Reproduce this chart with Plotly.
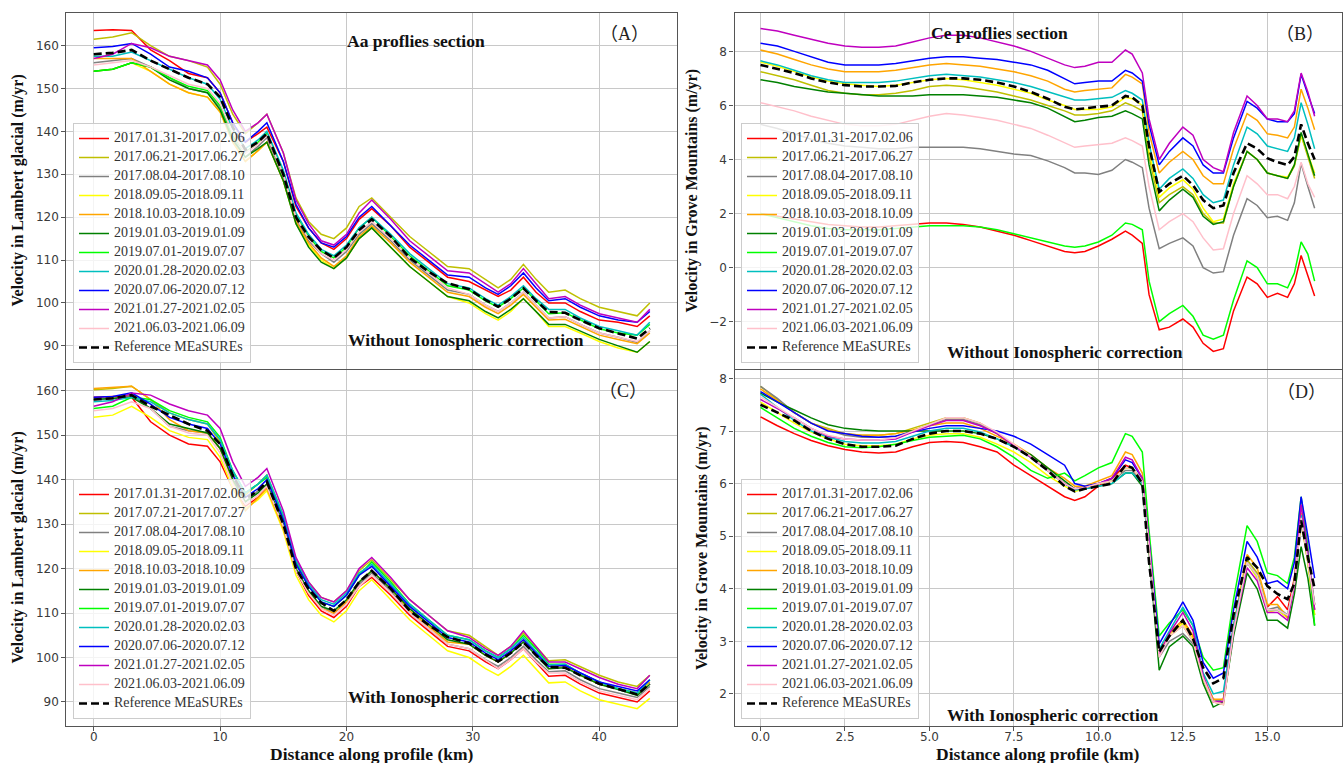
import plotly.graph_objects as go

W, H = 1344, 763

# ---------------- data ----------------
names_abd = ["2017.01.31-2017.02.06", "2017.06.21-2017.06.27", "2017.08.04-2017.08.10",
             "2018.09.05-2018.09.11", "2018.10.03-2018.10.09", "2019.01.03-2019.01.09",
             "2019.07.01-2019.07.07", "2020.01.28-2020.02.03", "2020.07.06-2020.07.12",
             "2021.01.27-2021.02.05", "2021.06.03-2021.06.09", "Reference MEaSUREs"]
names_c = ["2017.01.31-2017.02.06", "2017.07.21-2017.07.27", "2017.08.04-2017.08.10",
           "2018.09.05-2018.09.11", "2018.10.03-2018.10.09", "2019.01.03-2019.01.09",
           "2019.07.01-2019.07.07", "2020.01.28-2020.02.03", "2020.07.06-2020.07.12",
           "2021.01.27-2021.02.05", "2021.06.03-2021.06.09", "Reference MEaSUREs"]
colors = ["#ff0000", "#bfbf00", "#808080", "#ffff00", "#ffa500", "#008000",
          "#00ff00", "#00bfbf", "#0000ff", "#bf00bf", "#ffc0cb", "#000000"]

# Aa profile distance (km)
xa = [0, 1.5, 3, 4.5, 6, 7.5, 9, 10, 11, 12, 13, 13.7, 15, 16, 17, 18, 19, 20, 21, 22,
      23.5, 25, 26.5, 28, 29.7, 31, 32, 33, 34, 35, 36, 37.3, 38.5, 40, 41.5, 43, 44]

ref_a = [158, 158.3, 159, 156.5, 154.5, 152.5, 151, 148, 141, 135.7, 137.5, 139.5, 130, 120, 115.4, 112.3, 110.5, 113, 117, 119.5,
         115.5, 110.5, 107.3, 104.6, 103.2, 100.7, 99.1, 101, 103.4, 100.5, 97.9, 97.7, 96, 94.1, 92.9, 91.7, 94.1]

# (A) without ionospheric correction
a_red = [163.5, 163.7, 163.5, 159, 156.5, 153.5, 152.5, 149, 142, 137.5, 139.5, 141, 133, 122.5, 117.5, 114, 112.5, 115, 119.5, 122,
         118, 113, 109.5, 106, 105, 103, 101.5, 103, 106, 102.5, 100, 100, 98, 96, 95.5, 94.5, 97]
a_olive = [161.5, 162, 163, 160, 157.5, 156.5, 155, 151, 144, 139.5, 142, 144, 135, 124.5, 119, 116, 115, 117.5, 122.5, 124.5,
           120, 115.5, 112, 108.5, 108, 105.5, 103.5, 105.5, 109, 105.5, 102.5, 103, 101, 99, 98, 97, 100]
a_gray = [156, 156.5, 157, 155, 152.5, 150, 149, 145.5, 138.5, 134, 136.5, 138.5, 129.5, 119.5, 114.5, 111.5, 109.5, 112, 116, 118.5,
          114.5, 110, 106.5, 103, 102, 99.5, 98, 100, 102.5, 99.5, 96.5, 96.8, 95, 93, 92, 90.8, 93.5]
a_yellow = [154, 154.5, 156, 154, 151, 149, 148, 144.5, 137.5, 133, 135.5, 137.5, 128.5, 118.5, 113.5, 110, 108, 110.5, 115, 117.5,
            113, 108.5, 105, 101.5, 100, 97.5, 96, 98, 101, 98, 94.5, 94.5, 93, 91, 89.5, 88.5, 91]
a_orange = [157, 157, 157, 154, 151, 149, 148, 144.5, 137.5, 133, 135.5, 137.5, 128.5, 119, 114, 110.5, 108.5, 111, 115.5, 118,
            114, 109.5, 106, 102.5, 101.5, 99, 97.5, 99.5, 102, 99, 96, 96.2, 94.5, 92.5, 91.5, 90.5, 93]
a_green = [154, 154.5, 156, 155, 152, 150, 149, 145, 138, 134, 136, 137.5, 128.5, 118.5, 113, 109.5, 108, 110.5, 115, 117.5,
           113, 108.5, 105, 101.5, 100.5, 98, 96.5, 98.5, 101, 98, 95, 95, 93.5, 91.5, 90, 88.5, 91]
a_lime = [154, 154.5, 156, 155, 152.5, 150.5, 149.5, 146, 139, 135, 137.5, 139.5, 130.5, 120.5, 115.5, 112, 110.5, 113, 117.5, 120,
          115.5, 111, 107.5, 104, 103, 100.5, 99, 101, 103.5, 100.5, 97.5, 97.7, 96, 94, 93, 92.5, 95]
a_cyan = [157.5, 157.5, 158.5, 156.5, 154.5, 152.5, 151, 147.5, 140.5, 136, 138, 140, 131, 121, 116, 112.5, 111, 113.5, 117.5, 120,
          116, 111.5, 108, 104.5, 103.5, 101, 99.5, 101.5, 104, 101, 98.5, 98.5, 96.5, 94.5, 93.5, 92.5, 95.5]
a_blue = [159.5, 159.8, 160.5, 158, 155, 154, 152.5, 149, 142, 137.5, 140, 142, 133, 123, 117.5, 114, 113, 115.5, 120, 122.5,
          118, 113.5, 110, 106.5, 106, 103.5, 102, 104, 107, 103.5, 100.5, 101, 99, 97, 96, 95.5, 98]
a_magenta = [157, 158, 160.5, 159.5, 157.5, 156.5, 155.5, 152, 145, 140, 142, 144, 135, 124, 118.5, 114.5, 113.5, 116, 121, 124,
             119.5, 114.5, 111, 107.5, 107, 104.5, 102.5, 104.5, 108, 104.5, 101, 101.5, 99.5, 97.5, 96.5, 95.5, 98.5]
a_pink = [155.5, 156, 156.5, 155, 153, 151, 150, 146.5, 139.5, 135, 137, 139, 130, 120, 115, 111.5, 110, 112.5, 116.5, 119,
          115, 110.5, 107, 103.5, 102, 99.5, 98, 100, 102.5, 99.5, 96.5, 96.8, 95, 93, 92, 91, 93.5]

# (C) with ionospheric correction
c_red = [158.5, 158.7, 158.5, 153, 150, 148, 147.5, 144, 138, 134, 136, 138.5, 129.5, 119.5, 114, 110.5, 109, 111.5, 116, 118,
         114, 109.5, 106, 102.5, 101.5, 99, 97.5, 99.5, 102, 99, 95.8, 96, 94, 92, 91, 90, 92.5]
c_olive = [160.2, 160.5, 161, 158, 155, 153.5, 152.5, 148.5, 141, 136.5, 139, 141, 132, 122, 117, 113.5, 112.5, 115, 119.5, 122,
           117.5, 113, 109.5, 106, 105, 102.5, 100.5, 102.5, 105.5, 102.5, 99.3, 99.5, 98, 96, 94.5, 93.5, 96]
c_gray = [158, 158.2, 159, 156, 152, 151, 150.5, 147, 140, 135, 137.5, 139, 130, 120, 115, 111.5, 110, 112.5, 116.5, 119,
          115, 110, 106.5, 103, 102, 99.5, 98, 100, 102.5, 99.5, 96.8, 97, 95, 93, 92, 91, 93.5]
c_yellow = [154, 154.5, 156.5, 154, 151, 149.5, 149, 145, 138, 133.5, 135.5, 137.5, 128.5, 118.5, 113, 109.5, 108, 110.5, 115, 117.5,
            113, 108.5, 105, 101.5, 100, 97.5, 96, 98, 100.5, 97.5, 94.3, 94.5, 92.5, 90.5, 89.5, 88.5, 90.8]
c_orange = [160.5, 160.7, 161, 158, 153.5, 151, 150.5, 147, 139.5, 133, 136, 138, 129, 119.5, 114.5, 111, 110, 112.5, 117, 119.5,
            115.5, 110.5, 107, 103.5, 103, 100.5, 99, 101, 104, 101, 97.5, 98, 96, 94, 93, 92, 94.5]
c_green = [158, 158.2, 158.5, 156, 152.5, 151.5, 150.5, 147, 140, 135, 137, 139, 130, 120, 115, 111.5, 110.5, 113, 117, 119.5,
           115.5, 111, 107.5, 104, 103, 100.5, 99, 101, 103.5, 100.5, 97.5, 97.7, 96, 94, 92.8, 91.5, 94]
c_lime = [156, 156.5, 158.5, 158, 155.5, 154, 153, 149.5, 142, 137, 139, 140.5, 131.5, 121.5, 116, 112.5, 111.5, 114, 118.5, 121.5,
          117, 112, 108.5, 105, 104, 101.5, 100, 102, 105, 102, 98.5, 98.5, 96.5, 94.5, 93, 92, 95]
c_cyan = [157.5, 157.8, 158.5, 157.5, 155, 153.5, 152.5, 149, 142, 137, 139, 141, 132, 122, 116.5, 113, 112, 114.5, 119, 121,
          116.5, 112, 108.5, 105, 104, 101.5, 100, 102, 104.5, 101.5, 98.3, 98.5, 96.5, 94.5, 93, 92, 95]
c_blue = [158.5, 158.7, 159.5, 157, 154, 152.5, 151.5, 148, 141, 136, 138, 140, 131, 121, 116, 112.5, 111.5, 114, 118.5, 120.5,
          116, 111.5, 108, 104.5, 103.5, 101, 99.5, 101.5, 104, 101, 98, 98.2, 96.5, 94.5, 93.5, 92.5, 95]
c_magenta = [156.5, 157.5, 159.5, 159, 157, 155.5, 154.5, 151.5, 144, 138.5, 140.5, 142.5, 133, 122.5, 117, 113.5, 112.5, 115, 120, 122.5,
             118, 113, 109.5, 106, 104.5, 102, 100.5, 102.5, 106, 102.5, 99, 99, 97.5, 95.5, 94, 93, 96]
c_pink = [155.5, 156, 157.5, 156, 152, 150.5, 150, 146, 139, 134.5, 136.5, 138.5, 129.5, 119.5, 114.5, 111, 109.5, 112, 116, 118.5,
          114.5, 110, 106.5, 103, 102, 99.5, 97.5, 99.5, 102, 99, 96.5, 96.5, 94.5, 92.5, 91.5, 90.5, 93]

# Ce profile distance (km)
xb = [0, 0.5, 1, 1.5, 2, 2.5, 3, 3.5, 4, 4.5, 5, 5.5, 6, 6.5, 7, 7.5, 8, 8.5, 9, 9.3, 9.6, 10,
      10.4, 10.8, 11.0, 11.3, 11.5, 11.8, 12.1, 12.5, 12.8, 13.1, 13.4, 13.7, 14.0, 14.4, 14.7,
      15.0, 15.3, 15.6, 15.8, 16.0, 16.2, 16.4]

ref_b = [7.5, 7.35, 7.2, 7.0, 6.85, 6.75, 6.7, 6.7, 6.72, 6.85, 6.95, 7.0, 7.0, 6.95, 6.85, 6.7, 6.5, 6.25, 5.95, 5.85, 5.9, 5.95,
         6.0, 6.35, 6.3, 6.0, 4.5, 2.8, 3.1, 3.4, 3.05, 2.5, 2.2, 2.3, 3.5, 4.6, 4.4,
         4.05, 3.9, 3.8, 4.1, 5.3, 4.6, 4.0]

# (B) without ionospheric correction
b_red = [2.0, 1.9, 1.8, 1.7, 1.6, 1.55, 1.5, 1.5, 1.55, 1.6, 1.65, 1.65, 1.6, 1.5, 1.35, 1.2, 1.0, 0.8, 0.6, 0.55, 0.6, 0.8,
         1.05, 1.35, 1.2, 0.9, -1.0, -2.3, -2.2, -1.9, -2.2, -2.8, -3.1, -3.0, -1.6, -0.35, -0.6,
         -1.1, -0.95, -1.1, -0.6, 0.45, -0.3, -1.05]
b_olive = [7.25, 7.1, 6.95, 6.75, 6.55, 6.45, 6.4, 6.4, 6.45, 6.55, 6.7, 6.75, 6.7, 6.6, 6.5, 6.35, 6.2, 6.0, 5.8, 5.65, 5.65, 5.7,
           5.8, 6.1, 6.0, 5.8, 4.1, 2.4, 2.7, 3.0, 2.7, 2.0, 1.65, 1.65, 3.0, 4.3, 4.0,
           3.5, 3.4, 3.3, 3.75, 4.9, 4.1, 3.3]
b_gray = [5.3, 5.15, 4.95, 4.75, 4.6, 4.5, 4.45, 4.4, 4.4, 4.45, 4.45, 4.45, 4.45, 4.4, 4.3, 4.2, 4.15, 3.95, 3.7, 3.5, 3.5, 3.45,
          3.6, 4.0, 3.9, 3.7, 2.2, 0.7, 0.9, 1.1, 0.8, 0.0, -0.2, -0.15, 1.2, 2.55, 2.3,
          1.85, 1.9, 1.75, 2.4, 3.85, 3.0, 2.2]
b_yellow = [7.6, 7.45, 7.25, 7.05, 6.9, 6.8, 6.75, 6.7, 6.75, 6.85, 6.95, 7.0, 6.95, 6.85, 6.75, 6.6, 6.45, 6.2, 6.0, 5.85, 5.85, 5.85,
            5.95, 6.3, 6.25, 6.0, 4.3, 2.6, 2.95, 3.25, 2.9, 2.2, 1.7, 1.8, 3.1, 4.3, 4.0,
            3.5, 3.4, 3.35, 3.8, 4.9, 4.2, 3.5]
b_orange = [8.05, 7.9, 7.7, 7.5, 7.35, 7.25, 7.25, 7.25, 7.3, 7.4, 7.5, 7.55, 7.5, 7.45, 7.35, 7.25, 7.1, 6.9, 6.6, 6.5, 6.55, 6.6,
            6.65, 7.15, 7.05, 6.8, 5.0, 3.5, 3.9, 4.3, 4.0, 3.4, 3.1, 3.1, 4.4, 5.7, 5.45,
            4.95, 4.9, 4.8, 5.2, 6.6, 5.9, 5.1]
b_green = [6.95, 6.85, 6.7, 6.6, 6.5, 6.45, 6.4, 6.35, 6.35, 6.35, 6.4, 6.4, 6.4, 6.35, 6.3, 6.2, 6.1, 5.9, 5.6, 5.4, 5.45, 5.55,
           5.6, 5.8, 5.7, 5.5, 3.8, 2.1, 2.5, 2.9, 2.6, 1.9, 1.6, 1.7, 3.0, 4.3, 4.0,
           3.5, 3.4, 3.3, 3.8, 5.0, 4.2, 3.4]
b_lime = [2.0, 1.85, 1.7, 1.55, 1.45, 1.4, 1.4, 1.4, 1.45, 1.5, 1.55, 1.55, 1.55, 1.5, 1.4, 1.25, 1.1, 0.95, 0.8, 0.75, 0.8, 0.95,
          1.2, 1.65, 1.6, 1.4, -0.5, -2.0, -1.7, -1.4, -1.8, -2.5, -2.65, -2.5, -1.2, 0.25, 0.0,
          -0.6, -0.6, -0.75, -0.2, 0.95, 0.5, -0.5]
b_cyan = [7.65, 7.5, 7.3, 7.1, 6.95, 6.85, 6.85, 6.85, 6.9, 7.0, 7.1, 7.15, 7.1, 7.05, 6.95, 6.85, 6.7, 6.5, 6.3, 6.2, 6.2, 6.25,
          6.3, 6.55, 6.45, 6.2, 4.6, 2.9, 3.3, 3.65, 3.3, 2.7, 2.4, 2.5, 3.8, 5.2, 4.95,
          4.5, 4.4, 4.3, 4.8, 6.1, 5.3, 4.4]
b_blue = [8.3, 8.2, 8.0, 7.8, 7.6, 7.5, 7.5, 7.5, 7.55, 7.65, 7.75, 7.8, 7.8, 7.75, 7.7, 7.6, 7.5, 7.3, 7.0, 6.8, 6.85, 6.9,
          6.9, 7.3, 7.2, 6.9, 5.3, 3.8, 4.3, 4.8, 4.5, 3.8, 3.5, 3.5, 4.8, 6.15, 5.9,
          5.5, 5.4, 5.4, 5.7, 7.15, 6.4, 5.7]
b_magenta = [8.85, 8.75, 8.6, 8.45, 8.3, 8.2, 8.15, 8.15, 8.2, 8.35, 8.5, 8.6, 8.6, 8.5, 8.35, 8.2, 8.0, 7.75, 7.5, 7.4, 7.45, 7.6,
             7.6, 8.05, 7.9, 7.2, 5.5, 4.0, 4.6, 5.2, 4.9, 4.0, 3.7, 3.55, 5.0, 6.35, 6.0,
             5.5, 5.5, 5.4, 5.8, 7.2, 6.5, 5.6]
b_pink = [6.1, 5.95, 5.8, 5.6, 5.45, 5.3, 5.25, 5.25, 5.3, 5.45, 5.6, 5.7, 5.65, 5.55, 5.45, 5.3, 5.15, 4.9, 4.6, 4.45, 4.5, 4.55,
          4.6, 4.8, 4.7, 4.5, 3.0, 1.4, 1.7, 2.0, 1.7, 1.1, 0.65, 0.7, 2.0, 3.4, 3.1,
          2.7, 2.7, 2.55, 3.0, 3.9, 3.1, 2.6]

# (D) with ionospheric correction
d_red = [7.27, 7.1, 6.95, 6.82, 6.72, 6.65, 6.6, 6.58, 6.6, 6.7, 6.78, 6.8, 6.78, 6.7, 6.6, 6.35, 6.15, 5.95, 5.75, 5.68, 5.75, 5.95,
         6.1, 6.35, 6.3, 6.05, 4.8, 2.8, 3.15, 3.4, 3.1, 2.3, 1.85, 1.9, 3.3, 4.5, 4.25,
         3.65, 3.85, 3.6, 4.2, 5.3, 4.6, 3.7]
d_olive = [7.85, 7.6, 7.35, 7.15, 7.05, 6.95, 6.92, 6.92, 6.95, 7.05, 7.15, 7.25, 7.25, 7.15, 6.95, 6.7, 6.5, 6.25, 6.0, 5.9, 5.9, 6.0,
           6.05, 6.3, 6.3, 6.05, 4.9, 2.75, 3.1, 3.3, 3.0, 2.3, 1.85, 1.8, 3.2, 4.55, 4.3,
           3.6, 3.6, 3.45, 4.1, 5.35, 4.5, 3.5]
d_gray = [7.85, 7.62, 7.35, 7.15, 7.02, 6.92, 6.88, 6.88, 6.9, 7.0, 7.12, 7.22, 7.22, 7.12, 6.95, 6.72, 6.52, 6.25, 6.0, 5.9, 5.95, 6.0,
          6.05, 6.25, 6.25, 6.0, 4.8, 2.7, 3.0, 3.15, 2.95, 2.3, 1.9, 1.85, 3.2, 4.5, 4.25,
          3.6, 3.65, 3.5, 4.1, 5.3, 4.5, 3.6]
d_yellow = [7.55, 7.35, 7.15, 6.98, 6.85, 6.75, 6.72, 6.72, 6.75, 6.85, 6.92, 6.95, 6.95, 6.88, 6.75, 6.6, 6.4, 6.15, 5.95, 5.85, 5.9, 6.0,
            6.05, 6.3, 6.3, 6.05, 4.8, 2.75, 3.1, 3.35, 3.05, 2.3, 1.85, 1.85, 3.2, 4.5, 4.2,
            3.55, 3.6, 3.45, 4.1, 5.3, 4.5, 3.5]
d_orange = [7.8, 7.58, 7.35, 7.15, 7.02, 6.95, 6.92, 6.92, 6.95, 7.02, 7.1, 7.15, 7.15, 7.05, 6.9, 6.75, 6.55, 6.3, 6.1, 5.95, 5.95, 6.05,
            6.15, 6.6, 6.55, 6.2, 4.9, 2.8, 3.15, 3.4, 3.1, 2.35, 1.9, 1.9, 3.3, 4.65, 4.4,
            3.7, 3.7, 3.45, 4.15, 5.45, 4.6, 3.6]
d_green = [7.72, 7.55, 7.4, 7.25, 7.12, 7.05, 7.02, 7.0, 7.0, 7.0, 7.0, 7.0, 7.0, 6.95, 6.85, 6.7, 6.55, 6.3, 6.05, 5.9, 5.9, 5.95,
           6.0, 6.2, 6.2, 5.95, 4.7, 2.45, 2.9, 3.1, 2.9, 2.2, 1.75, 1.85, 3.1, 4.3, 4.0,
           3.4, 3.4, 3.25, 3.9, 4.8, 4.2, 3.3]
d_lime = [7.45, 7.25, 7.05, 6.9, 6.78, 6.7, 6.68, 6.7, 6.75, 6.82, 6.88, 6.9, 6.92, 6.85, 6.7, 6.5, 6.25, 6.1, 6.2, 6.05, 6.15, 6.3,
          6.4, 6.95, 6.9, 6.6, 5.1, 3.1, 3.35, 3.6, 3.3, 2.7, 2.45, 2.5, 3.8, 5.2, 4.9,
          4.3, 4.25, 4.1, 4.6, 5.75, 4.8, 3.3]
d_cyan = [7.7, 7.45, 7.2, 7.0, 6.88, 6.8, 6.77, 6.77, 6.8, 6.9, 7.0, 7.05, 7.05, 6.98, 6.85, 6.7, 6.5, 6.25, 6.0, 5.88, 5.9, 5.95,
          6.0, 6.2, 6.2, 6.0, 4.8, 2.85, 3.2, 3.65, 3.3, 2.4, 2.0, 2.05, 3.3, 4.5, 4.25,
          3.6, 3.6, 3.5, 4.1, 5.4, 4.6, 3.7]
d_blue = [7.75, 7.55, 7.35, 7.15, 7.0, 6.95, 6.9, 6.88, 6.9, 6.98, 7.05, 7.1, 7.1, 7.05, 7.0, 6.9, 6.75, 6.55, 6.35, 6.0, 5.95, 6.0,
          6.1, 6.45, 6.4, 6.1, 4.9, 2.95, 3.3, 3.75, 3.4, 2.6, 2.3, 2.4, 3.6, 4.9, 4.6,
          4.1, 4.15, 4.0, 4.5, 5.75, 5.0, 4.2]
d_magenta = [7.6, 7.42, 7.25, 7.05, 6.9, 6.85, 6.83, 6.83, 6.85, 6.98, 7.1, 7.2, 7.2, 7.1, 6.95, 6.72, 6.5, 6.25, 6.0, 5.9, 5.92, 6.0,
             6.1, 6.5, 6.45, 6.1, 4.9, 2.75, 3.15, 3.55, 3.2, 2.35, 1.85, 1.85, 3.2, 4.4, 4.15,
             3.55, 3.55, 3.4, 4.05, 5.6, 4.7, 3.6]
d_pink = [7.65, 7.45, 7.25, 7.05, 6.92, 6.85, 6.83, 6.83, 6.87, 7.0, 7.12, 7.25, 7.25, 7.15, 6.98, 6.75, 6.52, 6.25, 6.0, 5.9, 5.92, 6.0,
          6.05, 6.3, 6.3, 6.05, 4.8, 2.7, 3.1, 3.3, 3.0, 2.3, 1.85, 1.8, 3.2, 4.5, 4.25,
          3.6, 3.6, 3.5, 4.1, 5.35, 4.55, 3.7]

panel_a = [a_red, a_olive, a_gray, a_yellow, a_orange, a_green, a_lime, a_cyan, a_blue, a_magenta, a_pink, ref_a]
panel_b = [b_red, b_olive, b_gray, b_yellow, b_orange, b_green, b_lime, b_cyan, b_blue, b_magenta, b_pink, ref_b]
panel_c = [c_red, c_olive, c_gray, c_yellow, c_orange, c_green, c_lime, c_cyan, c_blue, c_magenta, c_pink, ref_a]
panel_d = [d_red, d_olive, d_gray, d_yellow, d_orange, d_green, d_lime, d_cyan, d_blue, d_magenta, d_pink, ref_b]

# ---------------- figure ----------------
def px(x):
    return x / W


def py(y):
    return 1 - y / H


fig = go.Figure()

panels = [
    (xa, panel_a, names_abd, "x", "y", "legend"),
    (xb, panel_b, names_abd, "x2", "y2", "legend2"),
    (xa, panel_c, names_c, "x3", "y3", "legend3"),
    (xb, panel_d, names_abd, "x4", "y4", "legend4"),
]
for xs, series, names, xr, yr, lg in panels:
    for i, ys in enumerate(series):
        n = min(len(xs), len(ys))
        is_ref = i == len(series) - 1
        fig.add_trace(go.Scatter(
            x=xs[:n], y=ys[:n], mode="lines",
            name='<span style="font-size:14px">' + names[i] + '</span>',
            line=dict(color=colors[i], width=2.6 if is_ref else 1.5,
                      dash="8px,4px" if is_ref else "solid"),
            xaxis=xr, yaxis=yr, legend=lg, hoverinfo="skip",
        ))

tickfont = dict(family="DejaVu Sans", size=12, color="#3a3a3a")
common = dict(showgrid=True, gridcolor="#c8c8c8", gridwidth=1, zeroline=False,
              showline=True, linecolor="#555555", linewidth=1.2, mirror=True,
              ticks="outside", ticklen=4, tickcolor="#555555", tickfont=tickfont)

dom_left = [px(66.3), px(676.6)]
dom_right = [px(734.5), px(1342)]
dom_top = [py(369), py(13)]
dom_bot = [py(726), py(370)]

fig.update_layout(
    width=W, height=H, autosize=False,
    margin=dict(l=0, r=0, t=0, b=0),
    paper_bgcolor="white", plot_bgcolor="white",
    xaxis=dict(domain=dom_left, anchor="y", range=[-2.17, 46.12],
               tickvals=[0, 10, 20, 30, 40], showticklabels=False, **common),
    yaxis=dict(domain=dom_top, anchor="x", range=[84.6, 167.6], dtick=10, **common),
    xaxis2=dict(domain=dom_right, anchor="y2", range=[-0.77, 17.21],
                tickvals=[0, 2.5, 5, 7.5, 10, 12.5, 15], showticklabels=False, **common),
    yaxis2=dict(domain=dom_top, anchor="x2", range=[-3.75, 9.42], dtick=2, **common),
    xaxis3=dict(domain=dom_left, anchor="y3", range=[-2.17, 46.12],
                tickvals=[0, 10, 20, 30, 40], ticklabelstandoff=-5, **common),
    yaxis3=dict(domain=dom_bot, anchor="x3", range=[84.6, 164.65], dtick=10, **common),
    xaxis4=dict(domain=dom_right, anchor="y4", range=[-0.77, 17.21],
                tickvals=[0, 2.5, 5, 7.5, 10, 12.5, 15], tickformat=".1f",
                ticklabelstandoff=-5, **common),
    yaxis4=dict(domain=dom_bot, anchor="x4", range=[1.39, 8.16], dtick=1, **common),
    showlegend=True,
)

leg_common = dict(xanchor="left", yanchor="bottom", bgcolor="rgba(255,255,255,0.8)",
                  bordercolor="#cccccc", borderwidth=1, tracegroupgap=0,
                  font=dict(family="Liberation Serif", size=10, color="#333333"))
fig.update_layout(
    legend=dict(x=px(73), y=py(363), **leg_common),
    legend2=dict(x=px(741), y=py(363), **leg_common),
    legend3=dict(x=px(73), y=py(719), **leg_common),
    legend4=dict(x=px(741), y=py(719), **leg_common),
)

serif_b = dict(family="Liberation Serif", size=17.5, color="#111111")
paren = dict(family="Liberation Serif, Noto Sans CJK SC", size=18, color="#222222")
ann = []


def add_text(text, x, y, font, angle=0):
    ann.append(dict(text=text, x=px(x), y=py(y), xref="paper", yref="paper",
                    xanchor="center", yanchor="middle", showarrow=False,
                    font=font, textangle=angle))


add_text("<b>Aa proflies section</b>", 416, 41, serif_b)
add_text("<b>Ce proflies section</b>", 999, 33, serif_b)
add_text("<b>Without Ionospheric correction</b>", 466, 340, serif_b)
add_text("<b>Without Ionospheric correction</b>", 1065, 352, serif_b)
add_text("<b>With Ionospheric correction</b>", 454, 697, serif_b)
add_text("<b>With Ionospheric correction</b>", 1053, 715, serif_b)
add_text("（A）", 624, 34, paren)
add_text("（B）", 1300, 34, paren)
add_text("（C）", 623, 391, paren)
add_text("（D）", 1301, 392, paren)

ytitle = dict(family="Liberation Serif", size=16, color="#111111")
add_text("<b>Velocity in Lambert glacial (m/yr)</b>", 17.5, 191, ytitle, -90)
add_text("<b>Velocity in Grove Mountains (m/yr)</b>", 691.5, 191, ytitle, -90)
add_text("<b>Velocity in Lambert glacial (m/yr)</b>", 17.5, 548, ytitle, -90)
add_text("<b>Velocity in Grove Mountains (m/yr)</b>", 702, 548, ytitle, -90)

xtitle = dict(family="Liberation Serif", size=17.5, color="#111111")
add_text("<b>Distance along profile (km)</b>", 371.5, 754, xtitle)
add_text("<b>Distance along profile (km)</b>", 1038, 754, xtitle)

fig.update_layout(annotations=ann)

fig.write_html("out.html")
